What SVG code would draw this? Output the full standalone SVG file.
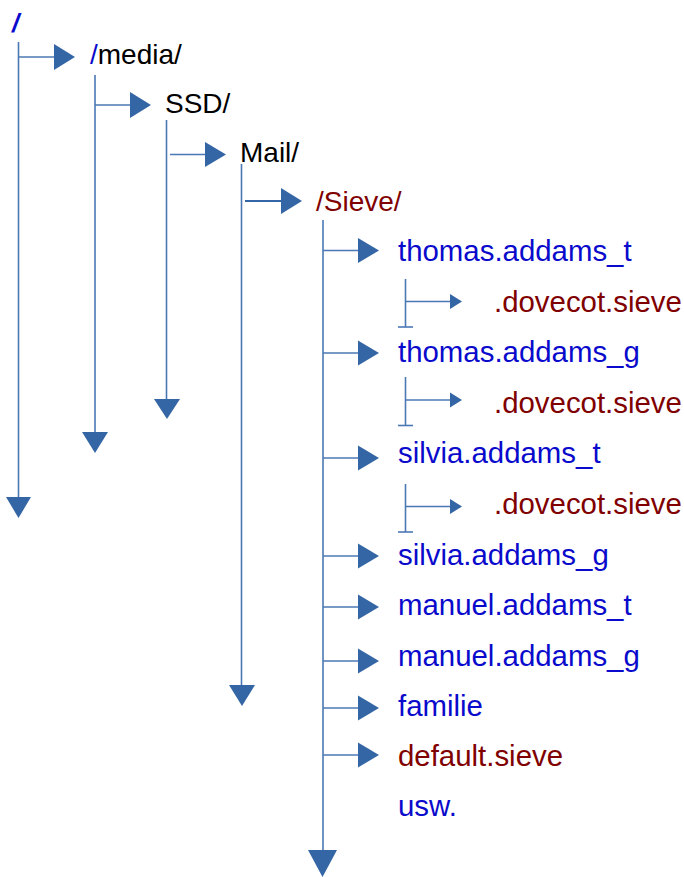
<svg xmlns="http://www.w3.org/2000/svg" width="684" height="877" viewBox="0 0 684 877">
<style>
  text { font-family: "Liberation Sans", Arial, sans-serif; }
  .t { font-size: 29.4px; }
  .tt { font-size: 28px; }
  .blue { fill: #0a0acc; }
  .red { fill: #800000; }
  .black { fill: #000000; }
  .ln { stroke: #4a78b5; stroke-width: 1.6; fill: none; }
  .ah { fill: #3465a4; }
</style>
<rect width="684" height="877" fill="#ffffff"/>
<g id="connectors">
  <line class="ln" x1="18.5" y1="42" x2="18.5" y2="498"/>
  <polygon class="ah" points="6,497 31,497 18.5,518"/>
  <line class="ln" x1="18.5" y1="57" x2="54" y2="57"/>
  <polygon class="ah" points="54,44 54,70 75,57"/>
  <line class="ln" x1="95" y1="75" x2="95" y2="433"/>
  <polygon class="ah" points="82,432 108,432 95,453"/>
  <line class="ln" x1="95" y1="105" x2="130" y2="105"/>
  <polygon class="ah" points="130,92 130,118 151,105"/>
  <line class="ln" x1="166.5" y1="120" x2="166.5" y2="400"/>
  <polygon class="ah" points="154,399 180,399 167,419"/>
  <line class="ln" x1="170" y1="154.5" x2="205" y2="154.5"/>
  <polygon class="ah" points="205,142 205,167 226,154.5"/>
  <line class="ln" x1="241.5" y1="164" x2="241.5" y2="686"/>
  <polygon class="ah" points="229,685 255,685 242,706"/>
  <line x1="245" y1="201" x2="281" y2="201" stroke="#3465a4" stroke-width="2.2"/>
  <polygon class="ah" points="281,188 281,214 302,201"/>
  <line class="ln" x1="323" y1="220" x2="323" y2="851"/>
  <polygon class="ah" points="308,850 337,850 322.5,877"/>
  <line class="ln" x1="323" y1="250.5" x2="358" y2="250.5"/>
  <polygon class="ah" points="358,238 358,263 379,250.5"/>
  <line class="ln" x1="323" y1="353" x2="358" y2="353"/>
  <polygon class="ah" points="358,340.5 358,365.5 379,353"/>
  <line class="ln" x1="323" y1="458" x2="358" y2="458"/>
  <polygon class="ah" points="358,445.5 358,470.5 379,458"/>
  <line class="ln" x1="323" y1="556" x2="358" y2="556"/>
  <polygon class="ah" points="358,543.5 358,568.5 379,556"/>
  <line class="ln" x1="323" y1="607" x2="358" y2="607"/>
  <polygon class="ah" points="358,594.5 358,619.5 379,607"/>
  <line class="ln" x1="323" y1="661" x2="358" y2="661"/>
  <polygon class="ah" points="358,648.5 358,673.5 379,661"/>
  <line class="ln" x1="323" y1="708" x2="358" y2="708"/>
  <polygon class="ah" points="358,695.5 358,720.5 379,708"/>
  <line class="ln" x1="323" y1="755" x2="358" y2="755"/>
  <polygon class="ah" points="358,742.5 358,767.5 379,755"/>
  <line class="ln" x1="405.5" y1="279" x2="405.5" y2="327"/>
  <line class="ln" x1="398" y1="327" x2="413" y2="327"/>
  <line class="ln" x1="405.5" y1="301.5" x2="450" y2="301.5"/>
  <polygon class="ah" points="450,294 450,309 462,301.5"/>
  <line class="ln" x1="405.5" y1="377" x2="405.5" y2="425.5"/>
  <line class="ln" x1="398" y1="425.5" x2="413" y2="425.5"/>
  <line class="ln" x1="405.5" y1="400" x2="450" y2="400"/>
  <polygon class="ah" points="450,392.5 450,407.5 462,400"/>
  <line class="ln" x1="405.5" y1="484" x2="405.5" y2="532"/>
  <line class="ln" x1="398" y1="532" x2="413" y2="532"/>
  <line class="ln" x1="405.5" y1="506.5" x2="450" y2="506.5"/>
  <polygon class="ah" points="450,499 450,514 462,506.5"/>
</g>
<g id="root"><text x="12" y="32" class="blue" style="font-size:26px;font-weight:bold;font-style:italic">/</text></g>
<g id="media"><text x="90" y="64" class="tt"><tspan class="blue">/</tspan><tspan class="black">media/</tspan></text></g>
<g id="ssd"><text x="165" y="113" class="tt black">SSD/</text></g>
<g id="mail"><text x="240" y="162" class="tt black">Mail/</text></g>
<g id="sieve"><text x="316" y="211" class="tt red">/Sieve/</text></g>
<g id="thomas_t"><text x="398" y="261" class="t blue">thomas.addams_t</text></g>
<g id="dovecot1"><text x="494" y="312" class="t red">.dovecot.sieve</text></g>
<g id="thomas_g"><text x="398" y="362" class="t blue">thomas.addams_g</text></g>
<g id="dovecot2"><text x="494" y="413" class="t red">.dovecot.sieve</text></g>
<g id="silvia_t"><text x="398" y="463" class="t blue">silvia.addams_t</text></g>
<g id="dovecot3"><text x="494" y="514" class="t red">.dovecot.sieve</text></g>
<g id="silvia_g"><text x="398" y="565" class="t blue">silvia.addams_g</text></g>
<g id="manuel_t"><text x="398" y="615" class="t blue">manuel.addams_t</text></g>
<g id="manuel_g"><text x="398" y="666" class="t blue">manuel.addams_g</text></g>
<g id="familie"><text x="398" y="716" class="t blue">familie</text></g>
<g id="default"><text x="398" y="766" class="t red">default.sieve</text></g>
<g id="usw"><text x="398" y="816" class="t blue">usw.</text></g>
</svg>
